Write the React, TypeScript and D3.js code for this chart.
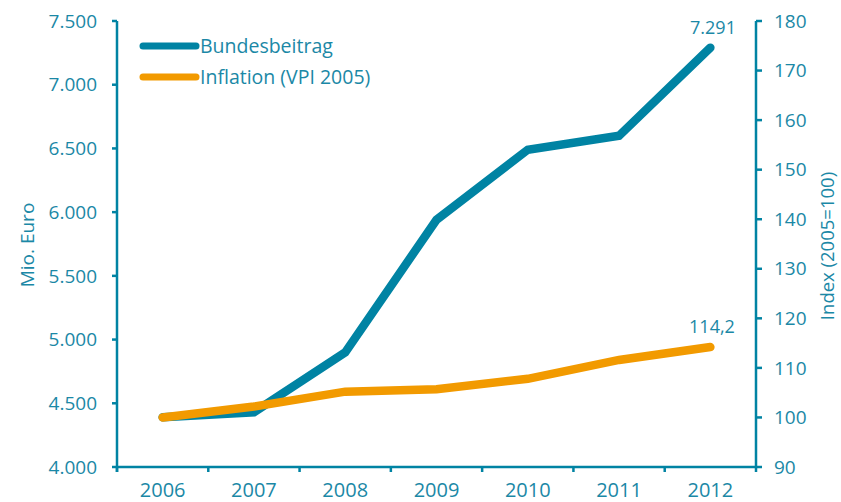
import React from "react";
import * as d3 from "d3";

const years = ["2006", "2007", "2008", "2009", "2010", "2011", "2012"];
const bundesbeitrag = [4390, 4430, 4900, 5940, 6490, 6600, 7291];
const inflation = [100, 102.2, 105.2, 105.7, 107.8, 111.6, 114.2];
const leftTicks = [4000, 4500, 5000, 5500, 6000, 6500, 7000, 7500];
const rightTicks = [90, 100, 110, 120, 130, 140, 150, 160, 170, 180];
const seriesNames = ["Bundesbeitrag", "Inflation (VPI 2005)"];

const BLUE = "#0083a3";
const ORANGE = "#f29a00";
const TEXT = "#1b88a6";
const FONT = "'Open Sans', sans-serif";

export default function App() {
  const W = 841, H = 502;
  const left = 117, right = 756, top = 21, bottom = 467;
  const x = d3.scaleBand().domain(years).range([left, right]);
  const yL = d3.scaleLinear().domain([4000, 7500]).range([bottom, top]);
  const yR = d3.scaleLinear().domain([90, 180]).range([bottom, top]);
  const cx = (d: string) => (x(d) as number) + x.bandwidth() / 2;
  const lineB = d3.line<number>().x((_, i) => cx(years[i])).y((v) => yL(v));
  const lineI = d3.line<number>().x((_, i) => cx(years[i])).y((v) => yR(v));
  const fmtL = (v: number) => d3.format(",")(v).replace(",", ".");
  const bandEdges = years.map((d) => x(d) as number).concat([right]);

  return (
    <svg width={W} height={H} style={{ position: "absolute", left: 0, top: 0 }} fontFamily={FONT}>
      <rect width={W} height={H} fill="#fff" />
      {/* left axis */}
      <line x1={left} x2={left} y1={top} y2={bottom + 5} stroke={BLUE} strokeWidth={2.5} />
      {leftTicks.map((t) => (
        <g key={t}>
          <line x1={left - 5} x2={left} y1={yL(t)} y2={yL(t)} stroke={BLUE} strokeWidth={2.5} />
          <text x={97} y={yL(t)} dy="0.35em" textAnchor="end" fill={TEXT} fontSize={19}>
            {fmtL(t)}
          </text>
        </g>
      ))}
      {/* right axis */}
      <line x1={right} x2={right} y1={top} y2={bottom} stroke={BLUE} strokeWidth={2.5} />
      {rightTicks.map((t) => (
        <g key={t}>
          <line x1={right} x2={right + 6} y1={yR(t)} y2={yR(t)} stroke={BLUE} strokeWidth={2.5} />
          <text x={774} y={yR(t)} dy="0.35em" textAnchor="start" fill={TEXT} fontSize={19}>
            {t}
          </text>
        </g>
      ))}
      {/* bottom axis */}
      <line x1={left - 1} x2={right + 1} y1={bottom} y2={bottom} stroke={BLUE} strokeWidth={2.5} />
      {bandEdges.map((e, i) => (
        <line key={i} x1={e} x2={e} y1={bottom} y2={bottom + 5} stroke={BLUE} strokeWidth={2.5} />
      ))}
      {years.map((d) => (
        <text key={d} x={cx(d)} y={497} textAnchor="middle" fill={TEXT} fontSize={20}>
          {d}
        </text>
      ))}
      {/* axis titles */}
      <text transform={`translate(34,${245}) rotate(-90)`} textAnchor="middle" fill={TEXT} fontSize={19}>
        Mio. Euro
      </text>
      <text transform={`translate(834,${246}) rotate(-90)`} textAnchor="middle" fill={TEXT} fontSize={18.5}>
        Index (2005=100)
      </text>
      {/* lines */}
      <path d={lineB(bundesbeitrag) ?? ""} fill="none" stroke={BLUE} strokeWidth={8.5} strokeLinecap="round" strokeLinejoin="miter" />
      <path d={lineI(inflation) ?? ""} fill="none" stroke={ORANGE} strokeWidth={8.5} strokeLinecap="round" strokeLinejoin="miter" />
      {/* data labels */}
      <text x={713} y={34} textAnchor="middle" fill={TEXT} fontSize={18}>
        {fmtL(7291)}
      </text>
      <text x={712} y={333} textAnchor="middle" fill={TEXT} fontSize={18}>
        {"114,2"}
      </text>
      {/* legend */}
      {seriesNames.map((n, i) => (
        <g key={n} transform={`translate(0,${46 + i * 31})`}>
          <line x1={143} x2={196} y1={0} y2={0} stroke={i === 0 ? BLUE : ORANGE} strokeWidth={7} strokeLinecap="round" />
          <text x={200} y={0} dy="0.35em" fill={TEXT} fontSize={19.5}>
            {n}
          </text>
        </g>
      ))}
    </svg>
  );
}
